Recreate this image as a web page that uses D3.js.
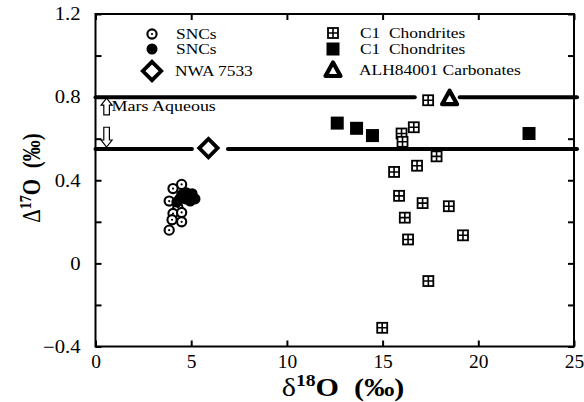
<!DOCTYPE html>
<html>
<head>
<meta charset="utf-8">
<script src="https://cdn.jsdelivr.net/npm/d3@7"></script>
<style>
  body { margin: 0; background: #fff; }
  svg text { font-family: 'Liberation Serif', 'Times New Roman', 'DejaVu Serif', serif !important; fill: #000; }
</style>
</head>
<body>
<svg width="584" height="402" font-family="Liberation Serif"></svg>
<script>
// SNCs (open circle with centre dot)
const sncOpen = [
  [4.5, 0.38], [4.05, 0.36], [3.85, 0.30], [4.3, 0.27], [4.05, 0.24],
  [4.5, 0.245], [4.0, 0.21], [4.5, 0.20], [3.85, 0.16]
];
// SNCs (filled circle)
const sncFilled = [
  [4.25, 0.295], [4.5, 0.33], [4.75, 0.34], [5.05, 0.335], [5.2, 0.31],
  [4.7, 0.31], [4.95, 0.30], [4.4, 0.31]
];
// C1 chondrites (crossed square)
const c1Open = [
  [17.38, 0.785], [15.99, 0.625], [16.63, 0.655], [16.04, 0.585], [17.82, 0.515],
  [16.8, 0.47], [15.6, 0.44], [15.86, 0.325], [17.09, 0.29], [18.46, 0.275],
  [16.16, 0.22], [19.2, 0.135], [16.33, 0.115], [17.39, -0.085], [14.98, -0.31]
];
// C1 chondrites (filled square)
const c1Filled = [[12.63, 0.675], [13.64, 0.65], [14.47, 0.615], [22.65, 0.625]];
const nwa7533 = [[5.9, 0.555]];
const alhCarb = [[18.5, 0.795]];

// reference lines with gaps (data units)
const refLines = [
  { y: 0.8, gaps: [[16.68, 19.03]] },
  { y: 0.55, gaps: [[5.04, 6.92]] }
];

const xTicks = [0, 5, 10, 15, 20, 25];
const yTicks = [-0.4, -0.2, 0, 0.2, 0.4, 0.6, 0.8, 1.0, 1.2];
const yLabels = [-0.4, 0, 0.4, 0.8, 1.2];

const svg = d3.select('svg');
const margin = { top: 14, right: 10, bottom: 55.5, left: 95.5 };
const width = +svg.attr('width');
const height = +svg.attr('height');
const innerW = width - margin.left - margin.right;
const innerH = height - margin.top - margin.bottom;
const stretch = 1.16; // the original text is a little wide

const x = d3.scaleLinear().domain([0, 25]).range([0, innerW]);
const y = d3.scaleLinear().domain([-0.4, 1.2]).range([innerH, 0]);

const g = svg.append('g').attr('transform', `translate(${margin.left},${margin.top})`);

// reference lines
refLines.forEach(r => {
  let start = 0;
  const segs = [];
  r.gaps.forEach(gp => { segs.push([start, gp[0]]); start = gp[1]; });
  segs.push([start, 25]);
  segs.forEach(s => {
    g.append('line')
      .attr('x1', x(s[0])).attr('x2', x(s[1]) + (s[1] === 25 ? 3 : 0))
      .attr('y1', y(r.y)).attr('y2', y(r.y))
      .attr('stroke', '#000').attr('stroke-width', 4)
      .attr('stroke-linecap', 'round');
  });
});

// frame + mirrored inward ticks
const tickLen = 6;
const axisStyle = sel => {
  sel.attr('font-family', null).attr('font-size', null);
  sel.select('.domain').remove();
  sel.selectAll('.tick line').attr('stroke', '#000').attr('stroke-width', 2);
  sel.selectAll('text').attr('fill', '#000').style('font-size', '18px');
};
const yFmt = d => {
  if (!yLabels.some(v => Math.abs(v - d) < 1e-9)) return '';
  return Math.abs(d) < 1e-9 ? '0' : d3.format('.1f')(d);
};
g.append('g').attr('transform', `translate(0,${innerH})`)
  .call(d3.axisBottom(x).tickValues(xTicks).tickSize(-tickLen).tickPadding(9).tickFormat(d3.format('d')))
  .call(axisStyle)
  .selectAll('text').attr('transform', 'scale(1.08,1)');
g.append('g')
  .call(d3.axisTop(x).tickValues(xTicks).tickSize(-tickLen).tickFormat(''))
  .call(axisStyle);
g.append('g')
  .call(d3.axisLeft(y).tickValues(yTicks).tickSize(-tickLen).tickFormat(yFmt))
  .call(axisStyle)
  .selectAll('text').attr('x', 0).attr('transform', 'translate(-15,0) scale(1.15,1)');
g.append('g').attr('transform', `translate(${innerW},0)`)
  .call(d3.axisRight(y).tickValues(yTicks).tickSize(-tickLen).tickFormat(''))
  .call(axisStyle);
g.append('rect')
  .attr('width', innerW).attr('height', innerH)
  .attr('fill', 'none').attr('stroke', '#000').attr('stroke-width', 2);

// marker painters
const drawOpenCircle = (sel, cx, cy) => {
  sel.append('circle').attr('cx', cx).attr('cy', cy).attr('r', 4.6)
    .attr('fill', '#fff').attr('stroke', '#000').attr('stroke-width', 2.1);
  sel.append('circle').attr('cx', cx).attr('cy', cy).attr('r', 1.1).attr('fill', '#000');
};
const drawFilledCircle = (sel, cx, cy) => {
  sel.append('circle').attr('cx', cx).attr('cy', cy).attr('r', 5.5).attr('fill', '#000');
};
const drawCrossSquare = (sel, cx, cy) => {
  const s = 10;
  sel.append('rect').attr('x', cx - s / 2).attr('y', cy - s / 2).attr('width', s).attr('height', s)
    .attr('fill', '#fff').attr('stroke', '#000').attr('stroke-width', 1.8);
  sel.append('path').attr('d', `M${cx - s / 2},${cy}H${cx + s / 2}M${cx},${cy - s / 2}V${cy + s / 2}`)
    .attr('stroke', '#000').attr('stroke-width', 1.6);
};
const drawFilledSquare = (sel, cx, cy) => {
  const s = 13;
  sel.append('rect').attr('x', cx - s / 2).attr('y', cy - s / 2).attr('width', s).attr('height', s)
    .attr('fill', '#000');
};
const drawDiamond = (sel, cx, cy) => {
  const r = 9.2;
  sel.append('path').attr('d', `M${cx},${cy - r}L${cx + r},${cy}L${cx},${cy + r}L${cx - r},${cy}Z`)
    .attr('fill', '#fff').attr('stroke', '#000').attr('stroke-width', 3.8).attr('stroke-linejoin', 'miter');
};
const drawTriangle = (sel, cx, cy) => {
  const r = 7.5;
  sel.append('path').attr('d', `M${cx},${cy - r}L${cx + r},${cy + r * 0.8}L${cx - r},${cy + r * 0.8}Z`)
    .attr('fill', '#fff').attr('stroke', '#000').attr('stroke-width', 4.2).attr('stroke-linejoin', 'round');
};

const plot = (data, painter) => {
  const layer = g.append('g');
  data.forEach(d => painter(layer, x(d[0]), y(d[1])));
};
plot(c1Open, drawCrossSquare);
plot(c1Filled, drawFilledSquare);
plot(sncOpen, drawOpenCircle);
plot(sncFilled, drawFilledCircle);
plot(nwa7533, drawDiamond);
plot(alhCarb, drawTriangle);

// stretched text helper
const label = (parent, tx, ty, size, str) =>
  parent.append('text')
    .attr('transform', `translate(${tx},${ty}) scale(${stretch},1)`)
    .style('font-size', size + 'px').style('white-space', 'pre').text(str);

// Mars Aqueous annotation with hollow arrows
const arrowX = x(0.58);
const arrow = (tipY, baseY) => {
  const dir = tipY < baseY ? 1 : -1;
  const headH = 7, hw = 5.5, sw = 2.8;
  const neck = tipY + dir * headH;
  return `M${arrowX},${tipY}L${arrowX + hw},${neck}L${arrowX + sw},${neck}L${arrowX + sw},${baseY}` +
    `L${arrowX - sw},${baseY}L${arrowX - sw},${neck}L${arrowX - hw},${neck}Z`;
};
g.append('path').attr('d', arrow(y(0.795), y(0.715)))
  .attr('fill', '#fff').attr('stroke', '#000').attr('stroke-width', 1.2);
g.append('path').attr('d', arrow(y(0.56), y(0.655)))
  .attr('fill', '#fff').attr('stroke', '#000').attr('stroke-width', 1.2);
label(g, arrowX + 5, y(0.735), 15.5, 'Mars Aqueous');

// legend
const legend = [
  { px: 152, py: 34, painter: drawOpenCircle, label: 'SNCs', tx: 176 },
  { px: 152, py: 49, painter: drawFilledCircle, label: 'SNCs', tx: 176 },
  { px: 152, py: 71, painter: drawDiamond, label: 'NWA 7533', tx: 175 },
  { px: 333, py: 33, painter: drawCrossSquare, label: 'C1  Chondrites', tx: 360 },
  { px: 333, py: 49, painter: drawFilledSquare, label: 'C1  Chondrites', tx: 360 },
  { px: 333, py: 70, painter: drawTriangle, label: 'ALH84001 Carbonates', tx: 359 }
];
const lg = svg.append('g');
legend.forEach(l => {
  l.painter(lg, l.px, l.py);
  label(lg, l.tx, l.py + 5, 15, l.label);
});

// axis titles
const xt = svg.append('text')
  .attr('transform', `translate(343,396) scale(${stretch},1)`).attr('text-anchor', 'middle')
  .style('font-size', '26px').style('white-space', 'pre');
xt.append('tspan').text('δ');
xt.append('tspan').attr('dy', -10).style('font-size', '17px').style('font-weight', 'bold').text('18');
xt.append('tspan').attr('dy', 10).style('font-weight', 'bold').text('O  (‰)');

const yt = svg.append('text')
  .attr('transform', `translate(40,178) rotate(-90) scale(1,1.18)`).attr('text-anchor', 'middle')
  .style('font-size', '21px').style('white-space', 'pre');
yt.append('tspan').text('Δ');
yt.append('tspan').attr('dy', -8).style('font-size', '14px').style('font-weight', 'bold').text('17');
yt.append('tspan').attr('dy', 8).style('font-weight', 'bold').text('O  (‰)');
</script>
</body>
</html>
